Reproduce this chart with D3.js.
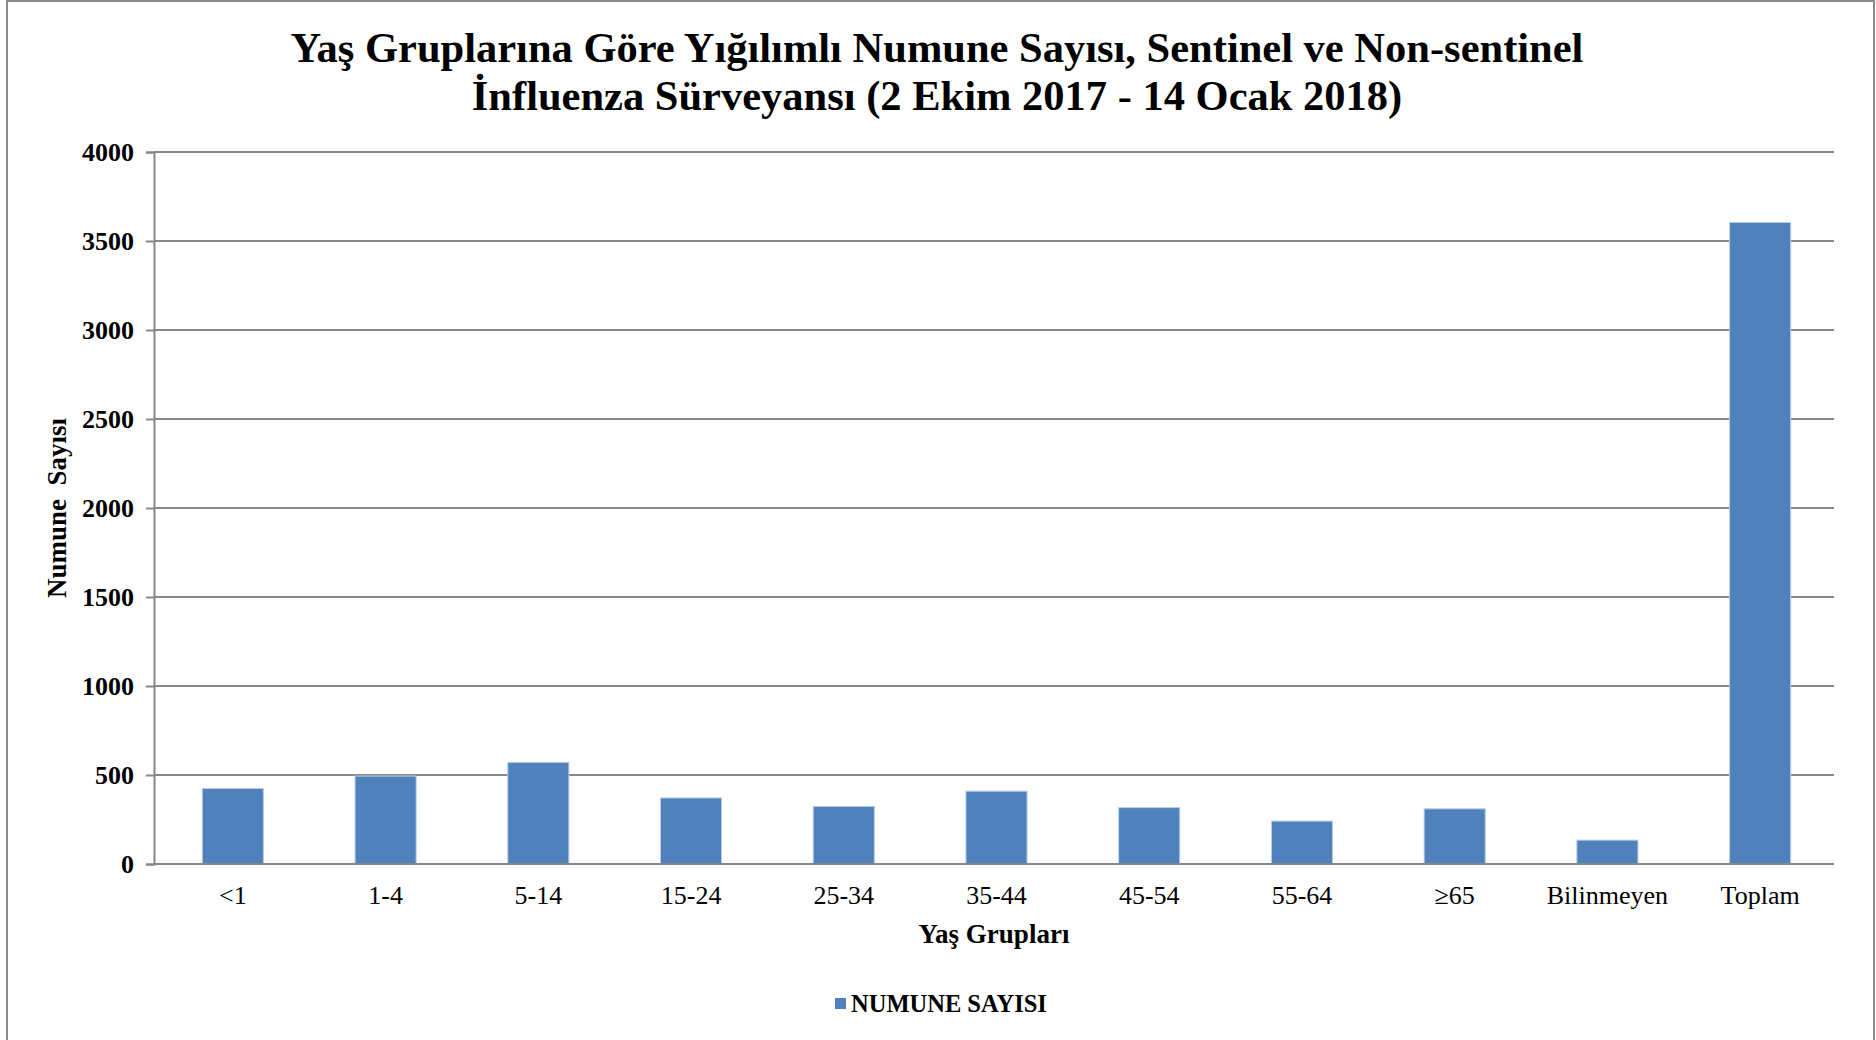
<!DOCTYPE html>
<html>
<head>
<meta charset="utf-8">
<script src="https://cdn.jsdelivr.net/npm/d3@7"></script>
<style>
    body { margin: 0; background: #fff; }
    svg { display: block; font-family: "Liberation Serif", "Times New Roman", serif; }
    .title { font-size: 42.5px; font-weight: bold; }
    .axis-label { font-size: 27px; font-weight: bold; }
    .y-axis text { font-size: 26px; font-weight: bold; fill: #000; }
    .x-axis text { font-size: 26px; fill: #000; }
    .legend text { font-size: 24.5px; font-weight: bold; }
</style>
</head>
<body>
<div id="chart"></div>
<script>
var categories = ["<1", "1-4", "5-14", "15-24", "25-34", "35-44", "45-54", "55-64", "\u226565", "Bilinmeyen", "Toplam"];
var numuneSayisi = [424, 494, 571, 371, 323, 409, 317, 241, 310, 134, 3604];
var yTicks = [0, 500, 1000, 1500, 2000, 2500, 3000, 3500, 4000];
var titleLines = [
    "Yaş Gruplarına Göre Yığılımlı Numune Sayısı, Sentinel ve Non-sentinel",
    "İnfluenza Sürveyansı (2 Ekim 2017 - 14 Ocak 2018)"
];
var seriesName = "NUMUNE SAYISI";

var outerWidth = 1876, outerHeight = 1040;
var margins = { top: 152, right: 42, bottom: 176, left: 154 };
var width = outerWidth - margins.left - margins.right;
var height = outerHeight - margins.top - margins.bottom;
var barColor = "#4f81bd", gridColor = "#878787";

var svg = d3.select("#chart").append("svg")
    .attr("width", outerWidth)
    .attr("height", outerHeight);

// outer chart border
svg.append("rect")
    .attr("x", 7).attr("y", 1)
    .attr("width", 1867).attr("height", 1060)
    .attr("fill", "none")
    .attr("stroke", "#8c8c8c")
    .attr("stroke-width", 2);

svg.selectAll("text.title")
    .data(titleLines)
    .enter().append("text")
    .attr("class", "title")
    .attr("text-anchor", "middle")
    .attr("x", 937)
    .attr("y", function(d, i) { return 62 + i * 48; })
    .text(function(d) { return d; });

var g = svg.append("g")
    .attr("transform", "translate(" + margins.left + "," + margins.top + ")");

// bands sit ~2px right of the gridline span
var x = d3.scaleBand()
    .domain(categories)
    .range([2.5, width + 2.5])
    .paddingInner(0.6)
    .paddingOuter(0.3);

var y = d3.scaleLinear()
    .domain([0, 4000])
    .range([height, 0]);

// gridlines
g.append("g")
    .selectAll("line")
    .data(yTicks)
    .enter().append("line")
    .attr("x1", 0).attr("x2", width)
    .attr("y1", function(d) { return y(d); })
    .attr("y2", function(d) { return y(d); })
    .attr("stroke", gridColor)
    .attr("stroke-width", 2);

var yAxis = g.append("g")
    .attr("class", "y-axis")
    .call(d3.axisLeft(y).tickValues(yTicks).tickSize(8).tickPadding(12).tickFormat(d3.format("d")))
    .attr("font-family", null)
    .attr("font-size", null);
yAxis.selectAll("line").attr("stroke", gridColor).attr("stroke-width", 2);
yAxis.select(".domain").attr("stroke", gridColor).attr("stroke-width", 2);

g.selectAll("rect.bar")
    .data(numuneSayisi)
    .enter().append("rect")
    .attr("class", "bar")
    .attr("x", function(d, i) { return x(categories[i]); })
    .attr("width", x.bandwidth())
    .attr("y", function(d) { return y(d); })
    .attr("height", function(d) { return height - y(d); })
    .attr("fill", barColor)
    .attr("stroke", "#b9cde5")
    .attr("stroke-width", 1);

// baseline drawn over bars
g.append("line")
    .attr("x1", 0).attr("x2", width)
    .attr("y1", height).attr("y2", height)
    .attr("stroke", gridColor)
    .attr("stroke-width", 2);

var xAxis = g.append("g")
    .attr("class", "x-axis")
    .attr("transform", "translate(0," + height + ")")
    .call(d3.axisBottom(x).tickSize(0).tickPadding(22))
    .attr("font-family", null)
    .attr("font-size", null);
xAxis.select(".domain").remove();

//add the axes labels
g.append("text")
    .attr("class", "axis-label")
    .attr("text-anchor", "middle")
    .attr("x", width / 2)
    .attr("y", height + 79)
    .text("Yaş Grupları");

g.append("text")
    .attr("class", "axis-label")
    .attr("text-anchor", "middle")
    .attr("transform", "rotate(-90)")
    .attr("x", -height / 2)
    .attr("y", -88)
    .style("white-space", "pre")
    .text("Numune  Sayısı");

// legend
var legend = svg.append("g")
    .attr("class", "legend")
    .attr("transform", "translate(835,1004)");
legend.append("rect")
    .attr("x", 0).attr("y", -6)
    .attr("width", 11).attr("height", 11)
    .attr("fill", barColor);
legend.append("text")
    .attr("x", 16)
    .attr("y", 8)
    .text(seriesName);
</script>
</body>
</html>
